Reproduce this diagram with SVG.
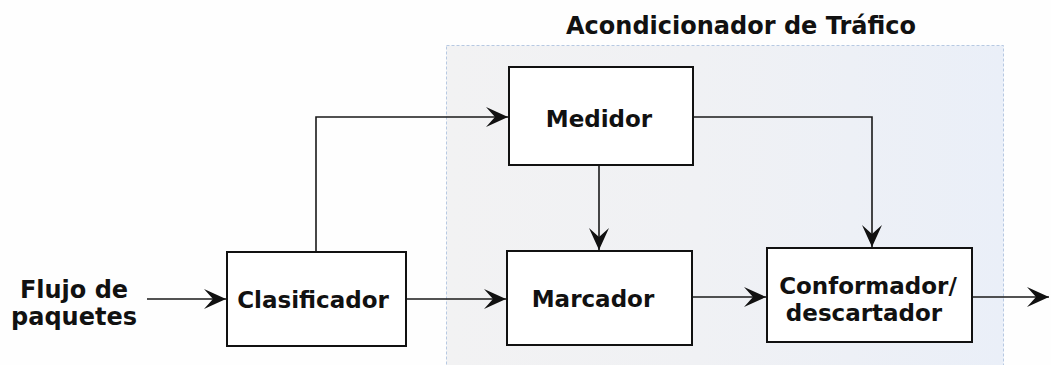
<svg xmlns="http://www.w3.org/2000/svg" width="1051" height="365" viewBox="0 0 1051 365">
  <style>
    .box { fill: #ffffff; stroke: #111111; stroke-width: 2; }
    .lbl { font-family: "DejaVu Sans", Verdana, sans-serif; font-weight: bold; font-size: 23px; fill: #111111; text-anchor: middle; }
    .big { font-size: 24px; }
    .wire { fill: none; stroke: #1a1a1a; stroke-width: 1.6; marker-end: url(#arrow); }
  </style>
  <defs>
    <linearGradient id="zoneFill" x1="0" y1="0" x2="1" y2="0">
      <stop offset="0" stop-color="#f2f2f3"/>
      <stop offset="0.45" stop-color="#f0f1f4"/>
      <stop offset="1" stop-color="#eaeff8"/>
    </linearGradient>
    <marker id="arrow" markerUnits="userSpaceOnUse" markerWidth="26" markerHeight="24" viewBox="-24 -12 26 24" refX="0" refY="0" orient="auto">
      <path d="M0,0 L-22,-10 L-13,0 L-22,10 Z" fill="#111111"/>
    </marker>
  </defs>

  <rect width="1051" height="365" fill="#fefefe"/>

  <!-- Traffic conditioner zone -->
  <g id="zone">
    <rect x="446.5" y="45.5" width="557" height="330" fill="url(#zoneFill)" stroke="#b7c9e2" stroke-width="1" stroke-dasharray="3 2"/>
    <text class="lbl big" x="741" y="34">Acondicionador de Tráfico</text>
  </g>

  <!-- Connectors -->
  <g id="connectors">
    <path class="wire" d="M147,299 H226"/>
    <path class="wire" d="M405,299 H506"/>
    <path class="wire" d="M316,251 V117 H508"/>
    <path class="wire" d="M599,165 V250"/>
    <path class="wire" d="M693,117 H872 V247"/>
    <path class="wire" d="M692,297 H766"/>
    <path class="wire" d="M972,297 H1049"/>
  </g>

  <g id="source">
    <text class="lbl big" x="74" y="298">Flujo de</text>
    <text class="lbl big" x="74" y="325">paquetes</text>
  </g>

  <g id="clasificador">
    <rect class="box" x="227" y="252" width="179" height="94"/>
    <text class="lbl" x="313" y="308">Clasificador</text>
  </g>

  <g id="medidor">
    <rect class="box" x="509" y="67" width="184" height="98"/>
    <text class="lbl" x="599" y="127">Medidor</text>
  </g>

  <g id="marcador">
    <rect class="box" x="507" y="251" width="185" height="94"/>
    <text class="lbl" x="593" y="307">Marcador</text>
  </g>

  <g id="conformador">
    <rect class="box" x="767" y="248" width="205" height="94"/>
    <text class="lbl" x="868" y="294">Conformador/</text>
    <text class="lbl" x="864" y="321">descartador</text>
  </g>
</svg>
